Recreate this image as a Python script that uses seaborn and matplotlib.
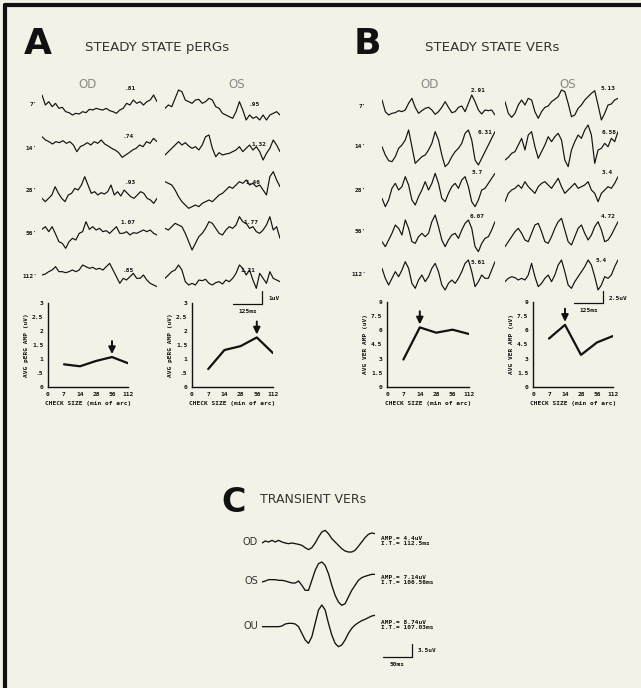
import numpy as np
import pandas as pd
import matplotlib
matplotlib.use("Agg")
import matplotlib.pyplot as plt
from matplotlib.lines import Line2D
import seaborn as sns

sns.set_theme(style="white")
plt.rcParams["font.family"] = ["DejaVu Sans"]

W, H = 641, 688
BG = "#f4f2e7"

# ---------------- data ----------------
check_sizes = [7, 14, 28, 56, 112]
row_labels = ["7'", "14'", "28'", "56'", "112'"]
x_tick_labels = ["0", "7", "14", "28", "56", "112"]

perg_od = [0.81, 0.74, 0.93, 1.07, 0.85]
perg_os = [0.64, 1.32, 1.46, 1.77, 1.21]
perg_od_text = [".81", ".74", ".93", "1.07", ".85"]
perg_os_text = [".95", "1.32", "1.46", "1.77", "1.21"]

ver_od = [2.91, 6.31, 5.75, 6.07, 5.61]
ver_os = [5.13, 6.58, 3.4, 4.72, 5.4]
ver_od_text = ["2.91", "6.31", "5.7", "6.07", "5.61"]
ver_os_text = ["5.13", "6.58", "3.4", "4.72", "5.4"]

perg_yticks = [0, 0.5, 1, 1.5, 2, 2.5, 3]
perg_yticklabels = ["0", ".5", "1", "1.5", "2", "2.5", "3"]
ver_yticks = [0, 1.5, 3, 4.5, 6, 7.5, 9]
ver_yticklabels = ["0", "1.5", "3", "4.5", "6", "7.5", "9"]

# steady state pERG traces (relative deflection)
perg_od_7 = [30, 0, 10, -5, 5, -10, -7, -20, -23, -30, -25, -27, -20, -23, -13, -15, -10, -13,
             -15, -10, -17, -20, -25, -15, -10, 5, 0, 15, 5, 10, 0, 10, 15, 30, 10]
perg_od_14 = [34, 24, 19, 12, 19, 16, 22, 14, 19, 9, -11, 4, 9, 16, 9, 19, 14, 24, 12, 6, -1,
              -6, -14, -28, -21, -14, -6, -1, 9, 4, 19, 14, 29, 19]
perg_od_28 = [-25, -35, -25, -15, 10, -10, -25, -35, -15, -10, 5, 0, 15, 40, 15, -10, -5, -15,
              -8, -12, -5, 15, -15, -5, -18, 0, -10, -20, -25, -15, -5, -10, -25, -30, -40, -25]
perg_od_56 = [11, 19, 4, 19, -3, -26, -31, -46, -26, -16, -21, -1, 4, 34, 11, 19, 9, 14, 4, 7,
              -1, 9, 19, -1, -1, 4, -6, 1, -1, 4, 9, 4, 9, -1, -6]
perg_od_112 = [6, 9, 16, 21, 31, 16, 16, 13, 16, 21, 16, 21, 36, 31, 26, 29, 23, 26, 21, 31, 41,
               21, 1, -19, -4, -9, 1, 11, -4, -4, 6, -9, -19, -24, -29]
perg_os_7 = [-10, 0, -5, 20, 45, 40, 15, 10, 5, 15, 17, 5, 10, 20, 15, -5, -10, -25, -30, -35,
             -40, -20, 10, -15, -45, -30, -40, -35, -45, -30, -45, -30, -25, -20, -30]
perg_os_14 = [-21, -11, -1, 9, 19, 9, 16, 6, -1, 4, -6, 9, 34, 39, -1, -26, -14, -21, -18, -16,
              -11, -6, 4, -11, -1, 9, -6, 4, -11, -36, -16, -1, 24, 9, -11]
perg_os_28 = [25, 20, 15, 0, -20, -35, -45, -55, -50, -45, -50, -40, -35, -30, -35, -25, -15,
              -10, 0, 10, 5, 15, 25, 20, 30, 15, 20, 10, 15, 0, -15, 40, 55, 30, 10]
perg_os_56 = [14, 9, 19, 29, 24, 19, -1, -26, -51, -31, -11, -1, 14, 34, 29, 14, -1, -6, 9, 19,
              14, 24, 49, 34, 29, 14, 19, 4, -1, 9, 24, 49, 9, 19, -16]
perg_os_112 = [-4, 6, 16, 21, 36, 21, -14, -24, -19, -24, -9, -11, -7, -19, -24, -17, -14, -21,
               -9, -14, -4, 11, 36, 26, 6, 21, -9, -34, 11, -4, -19, 16, -4, -9, -14]

# steady state VER traces
ver_od_7 = [21, -14, -24, -19, -17, -11, -14, -9, 11, 26, -1, -19, -11, -4, -1, -9, -22, -14,
            -1, 16, -1, -17, -14, -1, 3, -14, 11, 36, 16, -9, -21, -9, -11, -9, -24]
ver_od_14 = [1, -24, -41, -44, -29, -4, 6, 21, 51, 1, -49, -39, -29, -24, -9, 11, 46, 21, -24,
             -59, -49, -29, -14, -4, 11, 41, 51, 21, -39, -54, -34, -14, 6, 26, 46]
ver_od_28 = [-25, -50, -30, 5, 20, 0, 10, 40, 15, -30, -45, -20, 0, 25, 0, 20, 50, 20, -25, -35,
             -10, 10, 20, 5, 30, 40, 10, -35, -50, -30, 0, 5, 20, 35, 50]
ver_od_56 = [-29, -44, -24, -4, 21, 11, -9, 36, 11, -29, -34, -14, -4, -14, -4, 31, 51, 16, -24,
             -44, -24, -9, -4, -19, 6, 26, 36, 11, -44, -59, -34, -19, -14, 6, 31]
ver_od_112 = [17, -13, -33, -13, 7, -8, 12, 37, 17, -28, -43, -18, -3, -23, -8, 17, 32, 7, -33,
              -48, -28, -18, -28, -13, 7, 32, 42, 7, -38, -23, -3, -13, -13, 12, 37]
ver_os_7 = [16, -19, -31, -19, 6, 21, 6, 26, 21, -14, -34, -14, -1, 3, 16, 23, 31, 51, 46, 11,
            -29, -24, -4, 6, 21, 31, 41, 49, 6, -39, -19, 6, 9, 21, 26]
ver_os_14 = [-39, -31, -19, -14, 6, 26, -9, 36, 46, 1, -34, -14, 6, 31, 16, 31, 41, 21, -39, -59,
             -9, 16, 36, 26, 51, 66, 36, -49, -9, -4, 11, 1, 26, 16, 46]
ver_os_28 = [-35, -10, 0, 5, 15, 5, 25, 10, 0, -10, 10, 20, 25, 15, 5, 20, 35, 10, -10, 0, 10,
             20, 5, 10, 15, 25, 0, -10, -35, -10, 0, 10, 5, 20, 40]
ver_os_56 = [-44, -29, -14, 1, 11, -4, -24, -29, -4, 21, 26, 1, -29, -34, -14, 11, 31, 41, 6,
             -29, -39, -14, 11, 21, -4, -24, -9, 16, 31, 6, -29, -24, -9, 11, 31]
ver_os_112 = [-23, -13, -8, -11, -18, -13, -18, -3, 32, -8, -38, -28, -13, -3, -23, -3, 27, 42,
              7, -33, -43, -23, -8, 7, 22, 42, 27, -8, -48, -33, -8, -13, -3, 22, 42]

# transient VER traces
tver_od = [-3, 3, 0, 5, 0, 5, 0, -3, -5, -3, -5, -7, -10, -17, -23, -17, -3, 15, 30, 35, 25, 10,
           0, -10, -20, -27, -30, -30, -25, -13, 0, 13, 23, 27, 25]
tver_os = [-3, 0, 4, 4, 4, 2, 2, 0, -3, -6, -6, 0, -13, -28, -28, 2, 32, 52, 57, 47, 22, -13,
           -43, -63, -73, -68, -48, -28, -13, 2, 10, 14, 17, 20, 20]
tver_ou = [-2, -2, -2, -2, -2, -2, 0, 6, 8, 8, 6, -2, -22, -42, -52, -32, 8, 48, 63, 48, 8, -27,
           -52, -62, -57, -42, -22, -7, 3, 10, 16, 20, 25, 30, 32]
tver_names = ["OD", "OS", "OU"]
tver_text = ["AMP.= 4.4uV\nI.T.= 112.5ms", "AMP.= 7.14uV\nI.T.= 106.56ms",
             "AMP.= 8.74uV\nI.T.= 107.03ms"]

# ---------------- layout helpers ----------------
fig = plt.figure(figsize=(W / 100, H / 100), dpi=100, facecolor=BG)


def fx(x):
    return x / W


def fy(y):
    return 1 - y / H


def txt(x, y, s, **kw):
    fig.text(fx(x), fy(y), s, **kw)


def line(xs, ys, lw=0.9):
    fig.add_artist(Line2D([fx(v) for v in xs], [fy(v) for v in ys], color="#111111", lw=lw,
                          transform=fig.transFigure))


def trace(values, x0, x1, yc, h=70, lw=0.85):
    ax = fig.add_axes([fx(x0), fy(yc + h / 2), (x1 - x0) / W, h / H])
    ax.patch.set_alpha(0)
    df = pd.DataFrame({"t": np.arange(len(values)), "v": values})
    sns.lineplot(data=df, x="t", y="v", ax=ax, color="#111111", lw=lw)
    ax.set_xlim(0, len(values) - 1)
    ax.set_ylim(-h * 1.5, h * 1.5)
    ax.axis("off")
    return ax


def amp_plot(vals, x0, x1, ytop, ybot, yticks, yticklabels, ylabel):
    ax = fig.add_axes([fx(x0), fy(ybot), (x1 - x0) / W, (ybot - ytop) / H])
    ax.patch.set_alpha(0)
    df = pd.DataFrame({"size": check_sizes, "amp": vals})
    df["pos"] = df.index + 1
    sns.lineplot(data=df, x="pos", y="amp", ax=ax, color="#111111", lw=1.6)
    ax.set_xlim(0, len(check_sizes))
    ax.set_ylim(yticks[0], yticks[-1])
    ax.set_xticks(range(len(x_tick_labels)))
    ax.set_xticklabels(x_tick_labels)
    ax.set_yticks(yticks)
    ax.set_yticklabels(yticklabels)
    for s in ["top", "right"]:
        ax.spines[s].set_visible(False)
    for s in ["left", "bottom"]:
        ax.spines[s].set_color("#111111")
        ax.spines[s].set_linewidth(1.0)
    ax.tick_params(axis="both", direction="inout", length=3, width=0.8, colors="#111111",
                   labelsize=4.5, pad=2)
    for lab in ax.get_xticklabels() + ax.get_yticklabels():
        lab.set_fontweight("bold")
        lab.set_family("DejaVu Sans Mono")
    ax.set_xlabel("CHECK SIZE (min of arc)", fontsize=4.4, fontweight="bold",
                  family="DejaVu Sans Mono", labelpad=3, color="#111111")
    ax.set_ylabel(ylabel, fontsize=4.4, fontweight="bold", family="DejaVu Sans Mono",
                  labelpad=2, color="#111111")
    i = int(np.argmax(vals))
    span = yticks[-1] - yticks[0]
    ax.annotate("", xy=(df["pos"][i], vals[i] + 0.035 * span),
                xytext=(df["pos"][i], vals[i] + 0.19 * span),
                arrowprops=dict(arrowstyle="-|>,head_width=0.22,head_length=0.45",
                                mutation_scale=9, shrinkA=0, shrinkB=0,
                                color="#111111", lw=1.4))
    return ax


small = dict(fontsize=4.4, fontweight="bold", family="DejaVu Sans Mono", color="#111111")

# ---------------- border ----------------
line([5, 5], [5, H], lw=3)
line([5, W], [5, 5], lw=3)

# ---------------- panel A ----------------
txt(24, 54, "A", fontsize=26, fontweight="heavy", color="#111111", va="baseline")
txt(85, 51, "STEADY STATE pERGs", fontsize=9.6, color="#333333", va="baseline")
txt(88, 85, "OD", fontsize=8.5, color="#8a8a8a", ha="center", va="center")
txt(237, 85, "OS", fontsize=8.5, color="#8a8a8a", ha="center", va="center")

rows_a = [105, 148, 190, 233, 277]
traces_a_od = [perg_od_7, perg_od_14, perg_od_28, perg_od_56, perg_od_112]
traces_a_os = [perg_os_7, perg_os_14, perg_os_28, perg_os_56, perg_os_112]
od_lab_a = [(130, 88), (128, 137), (130, 183), (128, 223), (128, 270)]
os_lab_a = [(254, 105), (259, 144), (253, 182), (251, 222), (248, 270)]
for k in range(5):
    trace(traces_a_od[k], 42, 157, rows_a[k])
    trace(traces_a_os[k], 165, 280, rows_a[k])
    txt(37, rows_a[k], row_labels[k], ha="right", va="center", **small)
    txt(od_lab_a[k][0], od_lab_a[k][1], perg_od_text[k], ha="center", va="center", **small)
    txt(os_lab_a[k][0], os_lab_a[k][1], perg_os_text[k], ha="center", va="center", **small)

# scale bar A
line([262, 262], [291, 304])
line([233, 262], [304, 304])
txt(248, 312, "125ms", ha="center", va="center", **small)
txt(268, 298, "1uV", ha="left", va="center", **small)

amp_plot(perg_od, 48, 128, 303, 387, perg_yticks, perg_yticklabels, "AVG pERG AMP (uV)")
amp_plot(perg_os, 192, 273, 303, 387, perg_yticks, perg_yticklabels, "AVG pERG AMP (uV)")

# ---------------- panel B ----------------
txt(354, 54, "B", fontsize=26, fontweight="heavy", color="#111111", va="baseline")
txt(425, 51, "STEADY STATE VERs", fontsize=9.6, color="#333333", va="baseline")
txt(430, 85, "OD", fontsize=8.5, color="#8a8a8a", ha="center", va="center")
txt(568, 85, "OS", fontsize=8.5, color="#8a8a8a", ha="center", va="center")

rows_b = [107, 147, 190, 232, 274]
traces_b_od = [ver_od_7, ver_od_14, ver_od_28, ver_od_56, ver_od_112]
traces_b_os = [ver_os_7, ver_os_14, ver_os_28, ver_os_56, ver_os_112]
od_lab_b = [(478, 90), (485, 133), (477, 173), (477, 217), (478, 263)]
os_lab_b = [(608, 88), (609, 133), (607, 173), (608, 217), (601, 260)]
for k in range(5):
    trace(traces_b_od[k], 382, 495, rows_b[k])
    trace(traces_b_os[k], 505, 618, rows_b[k])
    txt(366, rows_b[k], row_labels[k], ha="right", va="center", **small)
    txt(od_lab_b[k][0], od_lab_b[k][1], ver_od_text[k], ha="center", va="center", **small)
    txt(os_lab_b[k][0], os_lab_b[k][1], ver_os_text[k], ha="center", va="center", **small)

# scale bar B
line([603, 603], [291, 303])
line([574, 603], [303, 303])
txt(589, 311, "125ms", ha="center", va="center", **small)
txt(609, 298, "2.5uV", ha="left", va="center", **small)

amp_plot(ver_od, 387, 469, 302, 387, ver_yticks, ver_yticklabels, "AVG VER AMP (uV)")
amp_plot(ver_os, 533, 613, 302, 387, ver_yticks, ver_yticklabels, "AVG VER AMP (uV)")

# ---------------- panel C ----------------
txt(221, 512, "C", fontsize=24, fontweight="heavy", color="#111111", va="baseline")
txt(260, 503, "TRANSIENT VERs", fontsize=9.0, color="#333333", va="baseline")
rows_c = [542, 581, 626]
traces_c = [tver_od, tver_os, tver_ou]
for k in range(3):
    trace(traces_c[k], 262, 375, rows_c[k], lw=0.95)
    txt(258, rows_c[k], tver_names[k], fontsize=7, color="#333333", ha="right", va="center")
    txt(381, rows_c[k] - 1, tver_text[k], ha="left", va="center", linespacing=1.1, **small)

# scale bar C
line([412, 412], [644, 657])
line([383, 412], [657, 657])
txt(397, 664, "50ms", ha="center", va="center", **small)
txt(418, 651, "3.5uV", ha="left", va="center", **small)

fig.savefig("out.png", dpi=100, facecolor=BG)
